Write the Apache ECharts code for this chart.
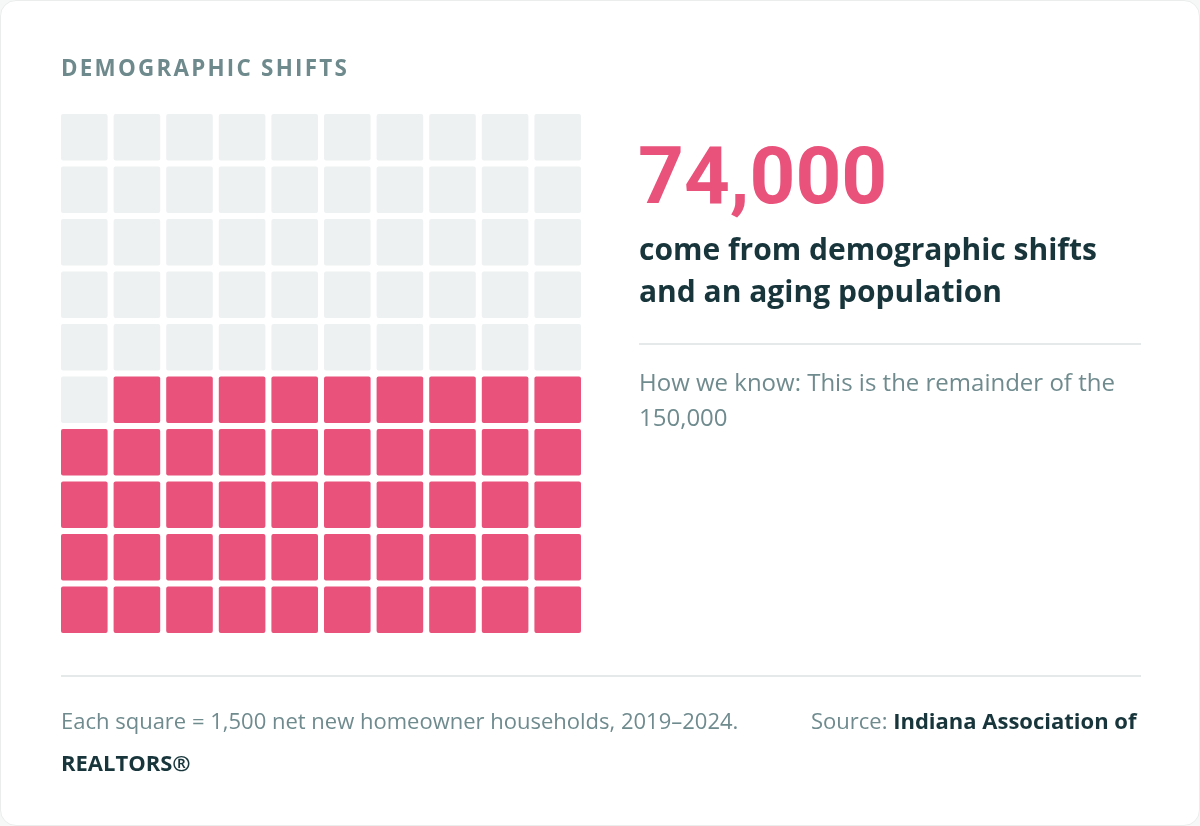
<!DOCTYPE html>
<html>
<head>
<meta charset="utf-8">
<script src="https://cdn.jsdelivr.net/npm/echarts@6/dist/echarts.min.js"></script>
<style>
html,body{margin:0;padding:0;background:#f6f7f7;}
#card{position:absolute;left:0;top:0;width:1198px;height:824px;background:#fff;border:1px solid #ebeded;border-radius:16px;overflow:hidden;}
#chart{width:1198px;height:824px;}
</style>
</head>
<body>
<div id="card"><div id="chart"></div></div>
<script>
// ---- data ----
const totalHouseholds = 150000;
const shareValue = 74000;
const perSquare = 1500;
const gridCols = 10;
const gridRows = 10;
const headline = "74,000";
const kicker = "DEMOGRAPHIC SHIFTS";
const subtitleLines = ["come from demographic shifts", "and an aging population"];
const noteLines = ["How we know: This is the remainder of the", "150,000"];
const footNote = "Each square = 1,500 net new homeowner households, 2019–2024.";
const sourceLabel = "Source: ";
const sourceName = ["Indiana Association of", "REALTORS®"];

// ---- build cells ----
const totalCells = gridCols * gridRows;
const filledCells = Math.round(shareValue / perSquare); // 49
const cells = [];
for (let i = 0; i < totalCells; i++) {
  const col = i % gridCols;
  const row = Math.floor(i / gridCols);
  const filled = i >= totalCells - filledCells ? 1 : 0;
  cells.push([col, gridRows - 1 - row, filled]);
}

const PINK = '#e8527b';
const EMPTY = '#eef1f2';
const DARK = '#17353b';
const MUTED = '#6f8b8e';

const chart = echarts.init(document.getElementById('chart'), null, {renderer: 'canvas'});
chart.setOption({
  animation: false,
  grid: {left: 60, top: 113, width: 526, height: 525},
  xAxis: {type: 'value', min: 0, max: gridCols, show: false},
  yAxis: {type: 'value', min: 0, max: gridRows, show: false},
  series: [{
    type: 'custom',
    data: cells,
    renderItem: function (params, api) {
      const p0 = api.coord([api.value(0), api.value(1) + 1]);
      const p1 = api.coord([api.value(0) + 1, api.value(1)]);
      const gap = 6;
      return {
        type: 'rect',
        shape: {x: p0[0], y: p0[1], width: p1[0] - p0[0] - gap, height: p1[1] - p0[1] - gap, r: 2},
        style: {fill: api.value(2) ? PINK : EMPTY}
      };
    }
  }],
  graphic: [
    {type: 'text', left: 60, top: 58, style: {text: kicker.split('').join('\u200A'), font: 'bold 22.4px "Open Sans"', fill: '#6f8a8c'}},
    {type: 'text', left: 637, top: 142, style: {text: headline, font: 'bold 80px Roboto', fill: PINK}},
    {type: 'text', left: 638, top: 229, style: {text: subtitleLines.join('\n'), font: 'bold 30px "Open Sans"', lineHeight: 42, fill: DARK}},
    {type: 'line', shape: {x1: 638, y1: 343, x2: 1140, y2: 343}, style: {stroke: '#e6e9ea', lineWidth: 2}},
    {type: 'text', left: 638, top: 366, style: {text: noteLines.join('\n'), font: '24px "Open Sans"', lineHeight: 35, fill: MUTED}},
    {type: 'line', shape: {x1: 60, y1: 675, x2: 1140, y2: 675}, style: {stroke: '#e6e9ea', lineWidth: 2}},
    {type: 'text', left: 60, top: 711, style: {text: footNote, font: '22px "Open Sans"', fill: MUTED}},
    {type: 'text', left: 810, top: 711, style: {
      text: '{a|' + sourceLabel + '}{b|' + sourceName[0] + '}',
      rich: {a: {font: '22px "Open Sans"', fill: MUTED}, b: {font: 'bold 22px "Open Sans"', fill: DARK}}
    }},
    {type: 'text', left: 60, top: 753, style: {text: sourceName[1], font: 'bold 22px "Open Sans"', fill: DARK}}
  ]
});
</script>
</body>
</html>
